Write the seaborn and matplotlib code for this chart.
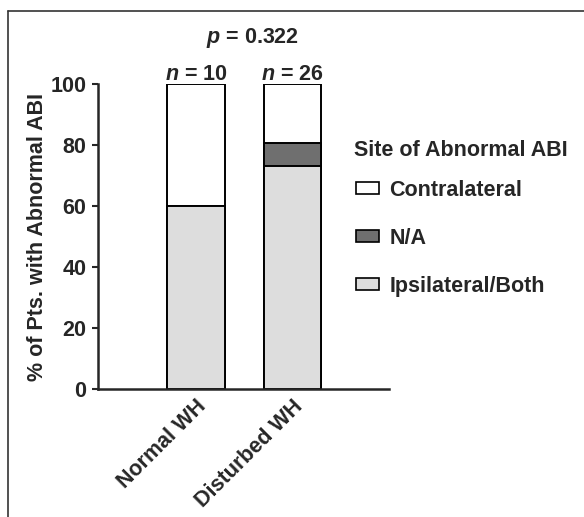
import numpy as np
import pandas as pd
import matplotlib
matplotlib.use("Agg")
import matplotlib.pyplot as plt
from matplotlib.lines import Line2D
from matplotlib.patches import Patch
import seaborn as sns

# values (percent of patients)
groups = ["Normal WH", "Disturbed WH"]
ipsi = [60.0, 73.1]      # Ipsilateral/Both
na = [0.0, 7.7]          # N/A
contra = [40.0, 19.2]    # Contralateral
n_counts = [10, 26]
p_text = "0.322"

site_labels = ["Contralateral", "N/A", "Ipsilateral/Both"]
site_colors = ["#ffffff", "#6f6f6f", "#dddddd"]

FS = 15.5

sns.set_theme(style="ticks")
plt.rcParams["font.family"] = ["Liberation Sans", "DejaVu Sans"]
plt.rcParams["font.weight"] = "bold"
plt.rcParams["mathtext.fontset"] = "custom"
plt.rcParams["mathtext.it"] = "Liberation Sans:bold:italic"
plt.rcParams["mathtext.rm"] = "Liberation Sans:bold"

df = pd.DataFrame({"group": groups, "ipsi": ipsi, "na": na, "contra": contra})
df["lvl1"] = df["ipsi"]
df["lvl2"] = df["ipsi"] + df["na"]
df["lvl3"] = df["lvl2"] + df["contra"]

fig = plt.figure(figsize=(5.84, 5.17), dpi=100)
ax = fig.add_axes([0.167, 0.2476, 0.499, 0.5894])

# stacked bars: draw cumulative totals from the top down
for col, c in zip(["lvl3", "lvl2", "lvl1"], site_colors):
    sns.barplot(data=df, x="group", y=col, color=c, width=0.6,
                edgecolor="black", linewidth=1.4, saturation=1, ax=ax)

ax.set_xlim(-1.02, 2.0)
ax.set_ylim(0, 100)
ax.set_yticks([0, 20, 40, 60, 80, 100])
ax.set_ylabel("% of Pts. with Abnormal ABI", fontsize=FS, fontweight="bold", labelpad=2)
ax.set_xlabel("")
ax.tick_params(axis="y", labelsize=FS, width=1.5, length=4, pad=4)
ax.tick_params(axis="x", labelsize=FS, length=0, pad=5)
plt.setp(ax.get_xticklabels(), rotation=45, ha="right", rotation_mode="anchor",
         fontweight="bold")
plt.setp(ax.get_yticklabels(), fontweight="bold")
for s in ["left", "bottom"]:
    ax.spines[s].set_linewidth(1.8)
sns.despine(ax=ax)

# n labels above bars
for i, n in enumerate(n_counts):
    ax.text(i, 101.5, f"$n$ = {n}", ha="center", va="baseline", fontsize=FS,
            fontweight="bold")

fig.text(253 / 584, 1 - 38 / 517, f"$p$ = {p_text}", ha="center", va="center",
         fontsize=FS, fontweight="bold")

# legend title as its own text so the gap to the entries can match
fig.text(354 / 584, 1 - 150 / 517, "Site of Abnormal ABI", ha="left", va="center",
         fontsize=FS, fontweight="bold")
handles = [Patch(facecolor=c, edgecolor="black", linewidth=1.2) for c in site_colors]
leg = fig.legend(handles, site_labels,
                 loc="upper left", bbox_to_anchor=(345 / 584, 1 - 169 / 517),
                 frameon=False, fontsize=FS,
                 handlelength=1.1, handleheight=0.5, handletextpad=0.45,
                 labelspacing=1.25, borderpad=0)
for t in leg.get_texts():
    t.set_fontweight("bold")

# outer frame (top and left edges only)
fig.add_artist(Line2D([7.5 / 584, 7.5 / 584], [0, 1 - 10.5 / 517],
                      transform=fig.transFigure, color="#333333", lw=1.2))
fig.add_artist(Line2D([7.5 / 584, 1], [1 - 10.5 / 517, 1 - 10.5 / 517],
                      transform=fig.transFigure, color="#333333", lw=1.2))

fig.savefig("out.png", dpi=100)
